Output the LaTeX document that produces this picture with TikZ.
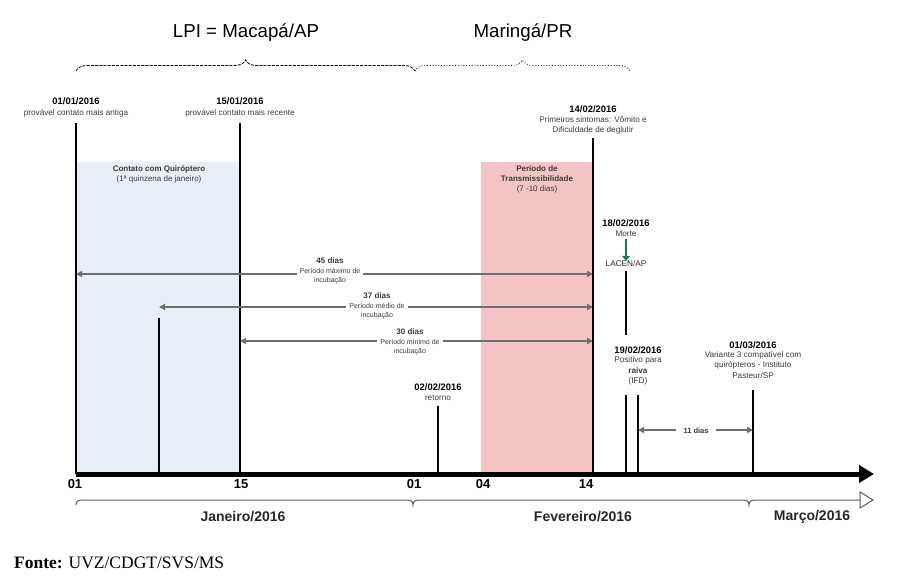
\documentclass[tikz,border=0pt]{standalone}
\usepackage{fontspec}
\setmainfont{Liberation Sans}
\newfontfamily\timesf{Liberation Serif}
\usetikzlibrary{arrows.meta,decorations.pathreplacing}
\definecolor{bluebox}{HTML}{E8EEF8}
\definecolor{pinkbox}{HTML}{F4C3C3}
\definecolor{garr}{HTML}{6E6E6E}
\definecolor{greenarr}{HTML}{1B7A5E}
\definecolor{txtgray}{HTML}{3A3A3A}
\definecolor{brgray}{HTML}{5A5A5A}
\begin{document}
\begin{tikzpicture}[x=1pt,y=-1pt,
  vline/.style={line width=2pt,black},
  garrow/.style={draw=garr,line width=1.4pt,{Triangle[length=6pt,width=6pt]}-{Triangle[length=6pt,width=6pt]}},
  datelab/.style={font=\bfseries\fontsize{9.4}{11}\selectfont,inner sep=0pt,text=black},
  desclab/.style={font=\fontsize{8.2}{10.4}\selectfont,inner sep=0pt,text=txtgray,align=center},
  inclab/.style={font=\fontsize{7}{9.6}\selectfont,text=txtgray,align=center,fill=white,inner xsep=3pt,inner ysep=0pt},
  boxlab/.style={font=\fontsize{8}{10}\selectfont,text=txtgray,align=center,inner sep=0pt},
  ticklab/.style={font=\bfseries\fontsize{13}{14}\selectfont,inner sep=0pt},
  monthlab/.style={font=\bfseries\fontsize{14}{16}\selectfont,inner sep=0pt,text=black!85},
  titlelab/.style={font=\fontsize{18.7}{20}\selectfont,inner sep=0pt}
]
\useasboundingbox (0,0) rectangle (899,586);

% shaded periods
\fill[bluebox] (77,162) rectangle (239,474);
\fill[pinkbox] (481,162) rectangle (593,474);
\node[boxlab] (bluetxt) at (159,174) {\textbf{Contato com Quiróptero}\\(1ª quinzena de janeiro)};
\node[boxlab] (pinktxt) at (537,179) {\textbf{Período de}\\\textbf{Transmissibilidade}\\(7 -10 dias)};

% titles and top braces
\node[titlelab] (t1) at (246,33) {LPI = Macapá/AP};
\node[titlelab] (t2) at (523,33) {Maringá/PR};
\coordinate (bA) at (76,71);
\coordinate (bB) at (415,71);
\coordinate (bC) at (630,71);
\draw[line width=0.8pt,dash pattern=on 3pt off 1.2pt,decorate,decoration={brace,amplitude=11pt}] (bA) -- (bB);
\draw[line width=0.8pt,dotted,decorate,decoration={brace,amplitude=11pt}] (bB) -- (bC);

% axis
\coordinate (ax0) at (76,474);
\coordinate (ax1) at (874,474);
\draw[line width=5pt,-{Triangle[length=15pt,width=17pt]}] (ax0) -- (ax1);
\node[ticklab] (k01) at (75,484) {01};
\node[ticklab] (k15) at (241,484) {15};
\node[ticklab] (k01b) at (414,484) {01};
\node[ticklab] (k04) at (483,484) {04};
\node[ticklab] (k14) at (586,484) {14};

% vertical event lines
\coordinate (v1t) at (76,123); \coordinate (v1b) at (76,474);
\coordinate (v2t) at (240,123); \coordinate (v2b) at (240,474);
\coordinate (v3t) at (159,318); \coordinate (v3b) at (159,474);
\coordinate (v4t) at (438,406); \coordinate (v4b) at (438,474);
\coordinate (v5t) at (593,138); \coordinate (v5b) at (593,474);
\coordinate (v6t) at (626,271); \coordinate (v6b) at (626,335);
\coordinate (v7t) at (626,395); \coordinate (v7b) at (626,473);
\coordinate (v8t) at (638,395); \coordinate (v8b) at (638,473);
\coordinate (v9t) at (753,390); \coordinate (v9b) at (753,473);
\foreach \a/\b in {v1t/v1b,v2t/v2b,v3t/v3b,v4t/v4b,v5t/v5b,v6t/v6b,v7t/v7b,v8t/v8b,v9t/v9b}
  \draw[vline] (\a) -- (\b);

% event labels
\node[datelab] (d1) at (76,101) {01/01/2016};
\node[desclab] (e1) at (76,113) {provável contato mais antiga};
\node[datelab] (d2) at (240,101) {15/01/2016};
\node[desclab] (e2) at (240,113) {provável contato mais recente};
\node[datelab] (d3) at (593,109) {14/02/2016};
\node[desclab] (e3) at (593,125.5) {Primeiros sintomas: Vômito e\\Dificuldade de deglutir};
\node[datelab] (d4) at (438,387) {02/02/2016};
\node[desclab] (e4) at (438,397.5) {retorno};
\node[datelab] (d5) at (626,223) {18/02/2016};
\node[desclab] (e5) at (626,234) {Morte};
\node[desclab,font=\fontsize{8.2}{10}\selectfont,text=black!85] (lacen) at (626,264) {LACEN/AP};
\draw[greenarr,line width=1.8pt,-{Triangle[length=5pt,width=8pt]}] (e5.south) ++(0,1.5) coordinate (g0) -- (lacen.north) ;
\node[datelab] (d6) at (638,350) {19/02/2016};
\node[desclab] (e6) at (638,371) {Positivo para\\\textbf{raiva}\\(IFD)};
\node[datelab] (d7) at (753,345) {01/03/2016};
\node[desclab] (e7) at (753,365) {Variante 3 compatível com\\quirópteros - Instituto\\Pasteur/SP};

% incubation arrows
\coordinate (a45l) at (76,274); \coordinate (a45r) at (593,274);
\coordinate (a37l) at (159,307); \coordinate (a37r) at (593,307);
\coordinate (a30l) at (240,341); \coordinate (a30r) at (593,341);
\coordinate (a11l) at (638,430); \coordinate (a11r) at (753,430);
\draw[garrow] (a45l) -- (a45r);
\draw[garrow] (a37l) -- (a37r);
\draw[garrow] (a30l) -- (a30r);
\draw[garrow] (a11l) -- (a11r);
\node[inclab] (i45) at (330,271) {{\bfseries\fontsize{8}{9.6}\selectfont 45 dias}\\Período máximo de\\incubação};
\node[inclab] (i37) at (377,306) {{\bfseries\fontsize{8}{9.6}\selectfont 37 dias}\\Período médio de\\incubação};
\node[inclab] (i30) at (410,342) {{\bfseries\fontsize{8}{9.6}\selectfont 30 dias}\\Período mínimo de\\incubação};
\node[inclab,font=\bfseries\fontsize{7.5}{9}\selectfont,inner xsep=7pt,inner ysep=1pt] (i11) at (696,431) {11 dias};

% bottom month brackets
\coordinate (m0) at (76,505);
\coordinate (m1) at (413,505);
\coordinate (m2) at (749,505);
\coordinate (m3) at (860,500);
\draw[brgray,line width=1pt]
  (m0) .. controls (76,501) and (78,500) .. (84,500) -- (405,500)
  .. controls (411,500) and (413,501) .. (m1)
  .. controls (413,501) and (415,500) .. (421,500) -- (741,500)
  .. controls (747,500) and (749,501) .. (m2)
  .. controls (749,501) and (751,500) .. (757,500) -- (m3);
\draw[brgray,line width=1pt,fill=white] (860,492) -- (873,500) -- (860,508) -- cycle;
\node[monthlab] (mj) at (243,517) {Janeiro/2016};
\node[monthlab] (mf) at (583,517) {Fevereiro/2016};
\node[monthlab] (mm) at (812,517) {Março/2016};

% source
\node[anchor=west,inner sep=0pt,font=\timesf\fontsize{17.5}{20}\selectfont] (src) at (14,563) {\textbf{Fonte:} UVZ/CDGT/SVS/MS};
\end{tikzpicture}
\end{document}
